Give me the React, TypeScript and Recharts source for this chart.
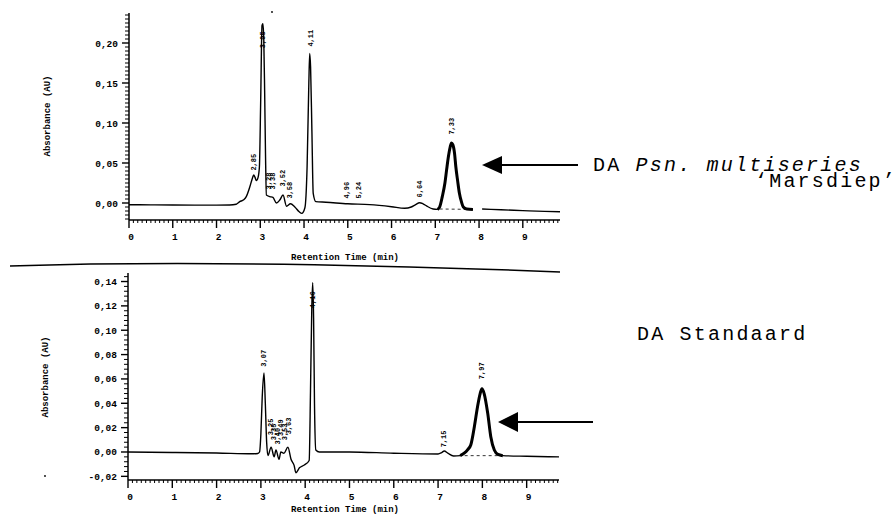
import React from 'react';
import { ComposedChart, Line, Scatter, XAxis, YAxis, ReferenceLine } from 'recharts';

// Bovenste chromatogram: DA Psn. multiseries 'Marsdiep'
const topTime = [
  0, 0.5, 1.0, 1.5, 2.0, 2.3, 2.45, 2.53, 2.62, 2.68, 2.76, 2.82, 2.85, 2.88, 2.91, 2.95, 2.98,
  3.01, 3.04, 3.06, 3.08, 3.1, 3.12, 3.14, 3.22, 3.29, 3.37, 3.45, 3.52, 3.6, 3.69, 3.79, 3.89,
  3.95, 4.02, 4.07, 4.11, 4.13, 4.15, 4.18, 4.21, 4.27, 4.5, 5.0, 5.5, 6.0, 6.3, 6.45, 6.55, 6.64,
  6.72, 6.8, 6.95, 7.05, 7.1, 7.16, 7.22, 7.26, 7.3, 7.34, 7.37, 7.4, 7.44, 7.47, 7.51, 7.55, 7.6,
  7.64, 7.72, 7.86, 7.95, 8.07, 8.5, 9.0, 9.5, 9.85,
];
const topAbs = [
  -0.0022, -0.0023, -0.0025, -0.0026, -0.0026, -0.0025, -0.0015, 0.0017, 0.004, 0.008, 0.02, 0.031,
  0.035, 0.032, 0.028, 0.032, 0.045, 0.129, 0.222, 0.224, 0.205, 0.14, 0.06, 0.01, 0.008, 0.007,
  0.0, 0.004, 0.01, -0.004, -0.001, -0.005, -0.011, -0.013, -0.006, 0.045, 0.15, 0.187, 0.17, 0.09,
  0.012, 0.0017, 0.001, -0.001, -0.002, -0.0046, -0.0066, -0.005, -0.002, 0.0004, -0.001, -0.0037,
  -0.0075, -0.008, -0.005, 0.008, 0.025, 0.042, 0.058, 0.07, 0.075, 0.073, 0.062, 0.045, 0.028,
  0.0125, 0.001, -0.005, -0.0075, -0.008, null, -0.0075, -0.0085, -0.0095, -0.0105, -0.011,
];
const topDaRange = [7.05, 7.86];
const topLabelText = ['2,85', '3,05', '3,28', '3,38', '3,52', '3,58', '4,11', '4,96', '5,24', '6,64', '7,33'];
const topLabelT = [2.85, 3.06, 3.19, 3.28, 3.51, 3.67, 4.15, 4.98, 5.25, 6.64, 7.38];
const topLabelV = [0.051, 0.204, 0.0275, 0.0275, 0.031, 0.016, 0.206, 0.016, 0.016, 0.0175, 0.096];

// Onderste chromatogram: DA Standaard
const botTime = [
  0, 1.0, 2.0, 2.8, 2.93, 2.97, 3.0, 3.03, 3.07, 3.1, 3.13, 3.16, 3.23, 3.3, 3.34, 3.41, 3.45,
  3.52, 3.61, 3.68, 3.75, 3.79, 3.87, 3.98, 4.09, 4.12, 4.15, 4.17, 4.19, 4.21, 4.24, 4.32, 5.0,
  6.0, 7.0, 7.08, 7.14, 7.22, 7.35, 7.5, 7.59, 7.67, 7.74, 7.82, 7.89, 7.95, 7.99, 8.04, 8.12,
  8.19, 8.27, 8.35, 8.46, 9.0, 9.73,
];
const botAbs = [
  0.0, -0.0004, -0.0008, -0.0015, -0.0012, 0.0, 0.015, 0.045, 0.065, 0.04, 0.008, -0.003, 0.004,
  -0.004, 0.0017, -0.006, 0.0, -0.001, 0.004, -0.006, -0.011, -0.017, -0.013, -0.0107, -0.007,
  0.05, 0.12, 0.139, 0.11, 0.04, 0.0016, 0.0, 0.0, -0.001, -0.0016, -0.0005, 0.0008, -0.001,
  -0.0033, -0.003, -0.001, 0.002, 0.006, 0.021, 0.037, 0.048, 0.052, 0.048, 0.032, 0.0126, 0.0016,
  -0.002, -0.003, -0.0035, -0.004,
];
const botDaRange = [7.5, 8.46];
const botLabelText = ['3,07', '3,25', '3,35', '3,40', '3,49', '3,53', '3,63', '4,16', '7,15', '7,97'];
const botLabelT = [3.07, 3.23, 3.3, 3.39, 3.45, 3.54, 3.64, 4.18, 7.13, 7.99];
const botLabelV = [0.077, 0.0206, 0.0165, 0.013, 0.02, 0.0165, 0.0214, 0.125, 0.0107, 0.0667];

const MONO = '"Liberation Mono", "DejaVu Sans Mono", monospace';

function range(from: number, to: number, step: number) {
  const out: number[] = [];
  for (let i = 0; from + i * step <= to + 1e-9; i++) out.push(Math.round((from + i * step) * 1e4) / 1e4);
  return out;
}

function isMajor(v: number, step: number) {
  const q = v / step;
  return Math.abs(q - Math.round(q)) < 1e-6;
}

const makeXTick = (props: any) => {
  const { x, y, payload } = props;
  const v = payload.value as number;
  const major = isMajor(v, 1);
  return (
    <g>
      <line x1={x} x2={x} y1={y} y2={y + (major ? 8 : 3)} stroke="#000" strokeWidth={major ? 1.4 : 1} />
      {major && (
        <text x={x + 2} y={y + 20} textAnchor="middle" fontFamily={MONO} fontSize={9.5} fontWeight="bold" fill="#000">
          {Math.round(v)}
        </text>
      )}
    </g>
  );
};

const makeYTick = (majorStep: number) => (props: any) => {
  const { x, y, payload } = props;
  const v = payload.value as number;
  const major = isMajor(v, majorStep);
  return (
    <g>
      <line x1={x - (major ? 7 : 4)} x2={x} y1={y} y2={y} stroke="#000" strokeWidth={major ? 1.4 : 1} />
      {major && (
        <text x={x - 11} y={y + 3.5} textAnchor="end" fontFamily={MONO} fontSize={9.5} fontWeight="bold" fill="#000">
          {v.toFixed(2).replace('.', ',')}
        </text>
      )}
    </g>
  );
};

const PeakLabel = (props: any) => {
  const { cx, cy, payload } = props;
  return (
    <text
      x={cx}
      y={cy}
      transform={`rotate(-90 ${cx} ${cy})`}
      textAnchor="middle"
      dominantBaseline="central"
      fontFamily={MONO}
      fontSize={7}
      fontWeight="bold"
      fill="#000"
    >
      {payload.text}
    </text>
  );
};

function buildTrace(times: number[], values: (number | null)[], da: number[]) {
  return times.map((t, i) => ({
    t,
    v: values[i],
    da: t >= da[0] && t <= da[1] ? values[i] : null,
  }));
}

function buildLabels(text: string[], ts: number[], vs: number[]) {
  return text.map((s, i) => ({ t: ts[i], v: vs[i], text: s }));
}

type PanelProps = {
  data: any[];
  labels: any[];
  top: number;
  height: number;
  margin: { top: number; right: number; bottom: number; left: number };
  xMax: number;
  yDomain: [number, number];
  yMajor: number;
  yMinor: number;
  yFrom: number;
  daBase: { x1: number; x2: number; y1: number; y2: number };
};

function Panel(p: PanelProps) {
  const xTicks = range(0, p.xMax, 0.1);
  const yTicks = range(p.yFrom, p.yDomain[1], p.yMinor);
  return (
    <div style={{ position: 'absolute', left: 0, top: p.top }}>
      <ComposedChart width={892} height={p.height} data={p.data} margin={p.margin}>
        <XAxis
          type="number"
          dataKey="t"
          domain={[0, p.xMax]}
          ticks={xTicks}
          interval={0}
          height={30}
          tickLine={false}
          tickSize={0}
          tickMargin={0}
          tick={makeXTick}
          axisLine={{ stroke: '#000', strokeWidth: 1.5 }}
          allowDataOverflow
        />
        <YAxis
          type="number"
          domain={p.yDomain}
          ticks={yTicks}
          interval={0}
          width={40}
          tickLine={false}
          tickSize={0}
          tickMargin={0}
          tick={makeYTick(p.yMajor)}
          axisLine={{ stroke: '#000', strokeWidth: 1.5 }}
          allowDataOverflow
        />
        <ReferenceLine
          segment={[
            { x: p.daBase.x1, y: p.daBase.y1 },
            { x: p.daBase.x2, y: p.daBase.y2 },
          ]}
          stroke="#000"
          strokeWidth={0.8}
          strokeDasharray="3 3"
        />
        <Line
          dataKey="v"
          type="monotone"
          stroke="#000"
          strokeWidth={1.4}
          dot={false}
          connectNulls={false}
          isAnimationActive={false}
        />
        <Line
          dataKey="da"
          type="monotone"
          stroke="#000"
          strokeWidth={3}
          dot={false}
          connectNulls={false}
          isAnimationActive={false}
        />
        <Scatter data={p.labels} dataKey="v" shape={PeakLabel} isAnimationActive={false} />
      </ComposedChart>
    </div>
  );
}

export default function App() {
  const topData = buildTrace(topTime, topAbs, topDaRange);
  const botData = buildTrace(botTime, botAbs, botDaRange);
  const topLabels = buildLabels(topLabelText, topLabelT, topLabelV);
  const botLabels = buildLabels(botLabelText, botLabelT, botLabelV);

  return (
    <div style={{ position: 'absolute', left: 0, top: 0, width: 892, height: 522, background: '#fff', overflow: 'hidden' }}>
      <Panel
        data={topData}
        labels={topLabels}
        top={0}
        height={270}
        margin={{ top: 13, right: 332, bottom: 20, left: 89 }}
        xMax={9.85}
        yDomain={[-0.02125, 0.2375]}
        yMajor={0.05}
        yMinor={0.005}
        yFrom={-0.02}
        daBase={{ x1: 7.1, x2: 7.86, y1: -0.0075, y2: -0.008 }}
      />
      <Panel
        data={botData}
        labels={botLabels}
        top={262}
        height={260}
        margin={{ top: 11, right: 333, bottom: 12, left: 88 }}
        xMax={9.73}
        yDomain={[-0.023, 0.147]}
        yMajor={0.02}
        yMinor={0.004}
        yFrom={-0.02}
        daBase={{ x1: 7.6, x2: 8.4, y1: -0.003, y2: -0.003 }}
      />
      <svg width={892} height={522} style={{ position: 'absolute', left: 0, top: 0, pointerEvents: 'none' }}>
        <g fontFamily={MONO} fontSize={9} fontWeight="bold" fill="#000">
          <text x={48} y={116} transform="rotate(-90 48 116)" textAnchor="middle" dominantBaseline="central">
            Absorbance (AU)
          </text>
          <text x={46} y={377} transform="rotate(-90 46 377)" textAnchor="middle" dominantBaseline="central">
            Absorbance (AU)
          </text>
          <text x={345} y={260} textAnchor="middle">Retention Time (min)</text>
          <text x={345} y={512} textAnchor="middle">Retention Time (min)</text>
        </g>
        <path d="M10 266 Q 230 259 560 272" fill="none" stroke="#000" strokeWidth={1.5} />
        <circle cx={272} cy={12} r={0.9} fill="#000" />
        <circle cx={45} cy={476} r={0.9} fill="#000" />
        <line x1={500} y1={165} x2={578} y2={165} stroke="#000" strokeWidth={2} />
        <polygon points="482,165 502,156 502,174" fill="#000" />
        <line x1={516} y1={422} x2={593} y2={422} stroke="#000" strokeWidth={2} />
        <polygon points="498,422 518,412 518,432" fill="#000" />
        <g fontFamily={MONO} fontSize={20} letterSpacing={2.2} fill="#000">
          <text x={593} y={171}>
            DA <tspan fontStyle="italic">Psn. multiseries</tspan>
          </text>
          <text x={755} y={187}>‘Marsdiep’</text>
          <text x={637} y={340}>DA Standaard</text>
        </g>
      </svg>
    </div>
  );
}
